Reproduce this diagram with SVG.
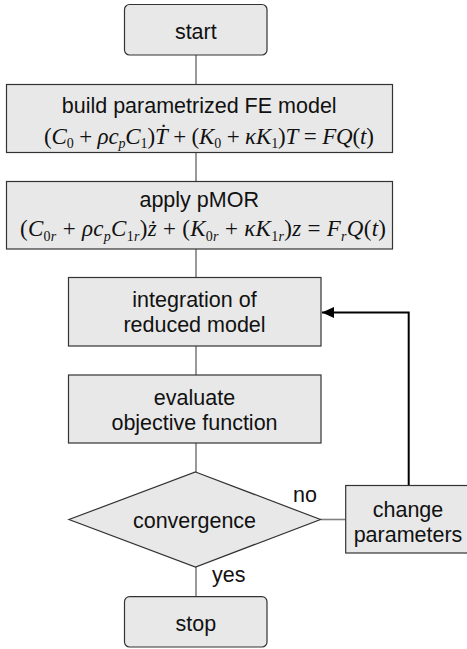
<svg xmlns="http://www.w3.org/2000/svg" width="467" height="649" viewBox="0 0 467 649">
<style>
  .box { fill: #e8e8e8; stroke: #333; stroke-width: 1.2; }
  .lbl { font-family: "Liberation Sans", Arial, sans-serif; font-size: 21.5px; fill: #111; text-anchor: middle; }
  .side { font-family: "Liberation Sans", Arial, sans-serif; font-size: 21.5px; fill: #111; }
  .math { font-family: "Liberation Serif", "Times New Roman", serif; font-size: 23px; fill: #111; }
  .i { font-style: italic; }
  .sub { font-size: 14px; }
  .conn { stroke: #808080; stroke-width: 1.6; fill: none; }
  .fb { stroke: #000; stroke-width: 2; fill: none; }
</style>
<defs>
  <marker id="arrow" markerUnits="userSpaceOnUse" markerWidth="14" markerHeight="12" refX="12" refY="5.5" orient="auto">
    <path d="M0,0 L12,5.5 L0,11 Z" fill="#000"/>
  </marker>
</defs>

<g id="connectors">
  <line class="conn" x1="196" y1="55" x2="196" y2="84.5"/>
  <line class="conn" x1="196" y1="152.5" x2="196" y2="181.5"/>
  <line class="conn" x1="196" y1="249" x2="196" y2="277.5"/>
  <line class="conn" x1="196" y1="346" x2="196" y2="375"/>
  <line class="conn" x1="196" y1="443" x2="196" y2="472"/>
  <line class="conn" x1="196" y1="567" x2="196" y2="596.7"/>
  <line class="conn" x1="320.5" y1="519.5" x2="345.7" y2="519.5"/>
  <polyline class="fb" points="408.7,485.5 408.7,312.5 322,312.5" marker-end="url(#arrow)"/>
  <text class="side" x="293" y="502">no</text>
  <text class="side" x="212" y="582">yes</text>
</g>

<g id="start">
  <rect class="box" x="124.5" y="4.5" width="142.5" height="50.5" rx="5"/>
  <text class="lbl" x="195.8" y="38.8">start</text>
</g>

<g id="build">
  <rect class="box" x="6.5" y="84.5" width="386" height="68"/>
  <text class="lbl" x="199.2" y="113">build parametrized FE model</text>
  <text class="math" x="44" y="143.5" textLength="330" lengthAdjust="spacing">(<tspan class="i">C</tspan><tspan class="sub" dy="4.5">0</tspan><tspan dy="-4.5"> + </tspan><tspan class="i">ρc</tspan><tspan class="i sub" dy="4.5">p</tspan><tspan class="i" dy="-4.5">C</tspan><tspan class="sub" dy="4.5">1</tspan><tspan dy="-4.5">)</tspan><tspan class="i">Ṫ</tspan> + (<tspan class="i">K</tspan><tspan class="sub" dy="4.5">0</tspan><tspan dy="-4.5"> + </tspan><tspan class="i">κK</tspan><tspan class="sub" dy="4.5">1</tspan><tspan dy="-4.5">)</tspan><tspan class="i">T</tspan> = <tspan class="i">FQ</tspan>(<tspan class="i">t</tspan>)</text>
</g>

<g id="pmor">
  <rect class="box" x="6.5" y="181.5" width="386" height="67.5"/>
  <text class="lbl" x="199.2" y="207">apply pMOR</text>
  <text class="math" x="20" y="235.5" textLength="366" lengthAdjust="spacing">(<tspan class="i">C</tspan><tspan class="sub" dy="5">0</tspan><tspan class="i sub">r</tspan><tspan dy="-5"> + </tspan><tspan class="i">ρc</tspan><tspan class="i sub" dy="5">p</tspan><tspan class="i" dy="-5">C</tspan><tspan class="sub" dy="5">1</tspan><tspan class="i sub">r</tspan><tspan dy="-5">)</tspan><tspan class="i">ż</tspan> + (<tspan class="i">K</tspan><tspan class="sub" dy="5">0</tspan><tspan class="i sub">r</tspan><tspan dy="-5"> + </tspan><tspan class="i">κK</tspan><tspan class="sub" dy="5">1</tspan><tspan class="i sub">r</tspan><tspan dy="-5">)</tspan><tspan class="i">z</tspan> = <tspan class="i">F</tspan><tspan class="i sub" dy="5">r</tspan><tspan class="i" dy="-5">Q</tspan>(<tspan class="i">t</tspan>)</text>
</g>

<g id="integration">
  <rect class="box" x="68.5" y="277.5" width="252.5" height="68.5"/>
  <text class="lbl" x="194.5" y="306.8">integration of</text>
  <text class="lbl" x="194.5" y="332">reduced model</text>
</g>

<g id="evaluate">
  <rect class="box" x="68.5" y="375" width="252.5" height="68"/>
  <text class="lbl" x="194.5" y="405">evaluate</text>
  <text class="lbl" x="194.5" y="430">objective function</text>
</g>

<g id="convergence">
  <polygon class="box" points="195.5,472 320.5,519.5 195.5,567 69,519.5"/>
  <text class="lbl" x="194.5" y="528.3">convergence</text>
</g>

<g id="change">
  <rect class="box" x="345.7" y="485.5" width="125" height="67.5"/>
  <text class="lbl" x="408" y="516.7">change</text>
  <text class="lbl" x="408" y="541.7">parameters</text>
</g>

<g id="stop">
  <rect class="box" x="124.5" y="596.7" width="142.5" height="50.3" rx="5"/>
  <text class="lbl" x="195.8" y="630.5">stop</text>
</g>
</svg>
